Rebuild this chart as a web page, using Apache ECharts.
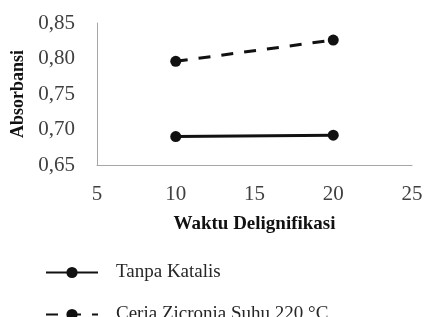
<!DOCTYPE html>
<html>
<head>
<meta charset="utf-8">
<script src="https://cdn.jsdelivr.net/npm/echarts@6/dist/echarts.min.js"></script>
<style>
  html, body { margin: 0; padding: 0; background: #fff; }
  #chart { width: 424px; height: 317px; }
</style>
</head>
<body>
<div id="chart"></div>
<script>
// data
var waktu = [10, 20];
var tanpaKatalis = [0.690, 0.692];
var ceriaZirconia = [0.796, 0.826];
var namaSeri = ['Tanpa Katalis', 'Ceria Zicronia Suhu 220 \u00B0C'];

var serif = '"Liberation Serif", "Times New Roman", serif';

function pasang(ys) {
    return waktu.map(function (x, i) { return [x, ys[i]]; });
}

function legenda(nama, top) {
    return {
        orient: 'vertical',
        left: 40,
        top: top,
        itemWidth: 52,
        itemHeight: 14,
        textStyle: { fontFamily: serif, fontSize: 19, color: '#262626', padding: [0, 0, 0, 13] },
        data: [nama]
    };
}

var myChart = echarts.init(document.getElementById('chart'));
myChart.setOption({
    animation: false,
    grid: { left: 97, right: 12, top: 23, bottom: 152, outerBoundsMode: 'none', containLabel: false },
    xAxis: {
        type: 'value',
        min: 5, max: 25, interval: 5,
        name: 'Waktu Delignifikasi',
        nameLocation: 'middle',
        nameGap: 50,
        nameTextStyle: { fontFamily: serif, fontWeight: 'bold', fontSize: 19, color: '#111' },
        axisLine: { lineStyle: { color: '#a6a6a6', width: 1 } },
        axisTick: { show: false },
        splitLine: { show: false },
        axisLabel: { fontFamily: serif, fontSize: 21, color: '#404040', margin: 19 }
    },
    yAxis: {
        type: 'value',
        min: 0.65, max: 0.85, interval: 0.05,
        name: 'Absorbansi',
        nameLocation: 'middle',
        nameRotate: 90,
        nameGap: 69,
        nameTextStyle: { fontFamily: serif, fontWeight: 'bold', fontSize: 18, color: '#111' },
        axisLine: { show: true, lineStyle: { color: '#a6a6a6', width: 1 } },
        axisTick: { show: false },
        splitLine: { show: false },
        axisLabel: {
            fontFamily: serif, fontSize: 21, color: '#404040', margin: 22,
            formatter: function (v) { return v.toFixed(2).replace('.', ','); }
        }
    },
    legend: [legenda(namaSeri[0], 258), legenda(namaSeri[1], 300)],
    series: [
        {
            name: namaSeri[0],
            type: 'line',
            data: pasang(tanpaKatalis),
            symbol: 'circle',
            symbolSize: 11,
            itemStyle: { color: '#111' },
            lineStyle: { color: '#111', width: 3 }
        },
        {
            name: namaSeri[1],
            type: 'line',
            data: pasang(ceriaZirconia),
            symbol: 'circle',
            symbolSize: 11,
            itemStyle: { color: '#111' },
            lineStyle: { color: '#111', width: 3, type: [12, 11] }
        }
    ]
});
</script>
</body>
</html>
